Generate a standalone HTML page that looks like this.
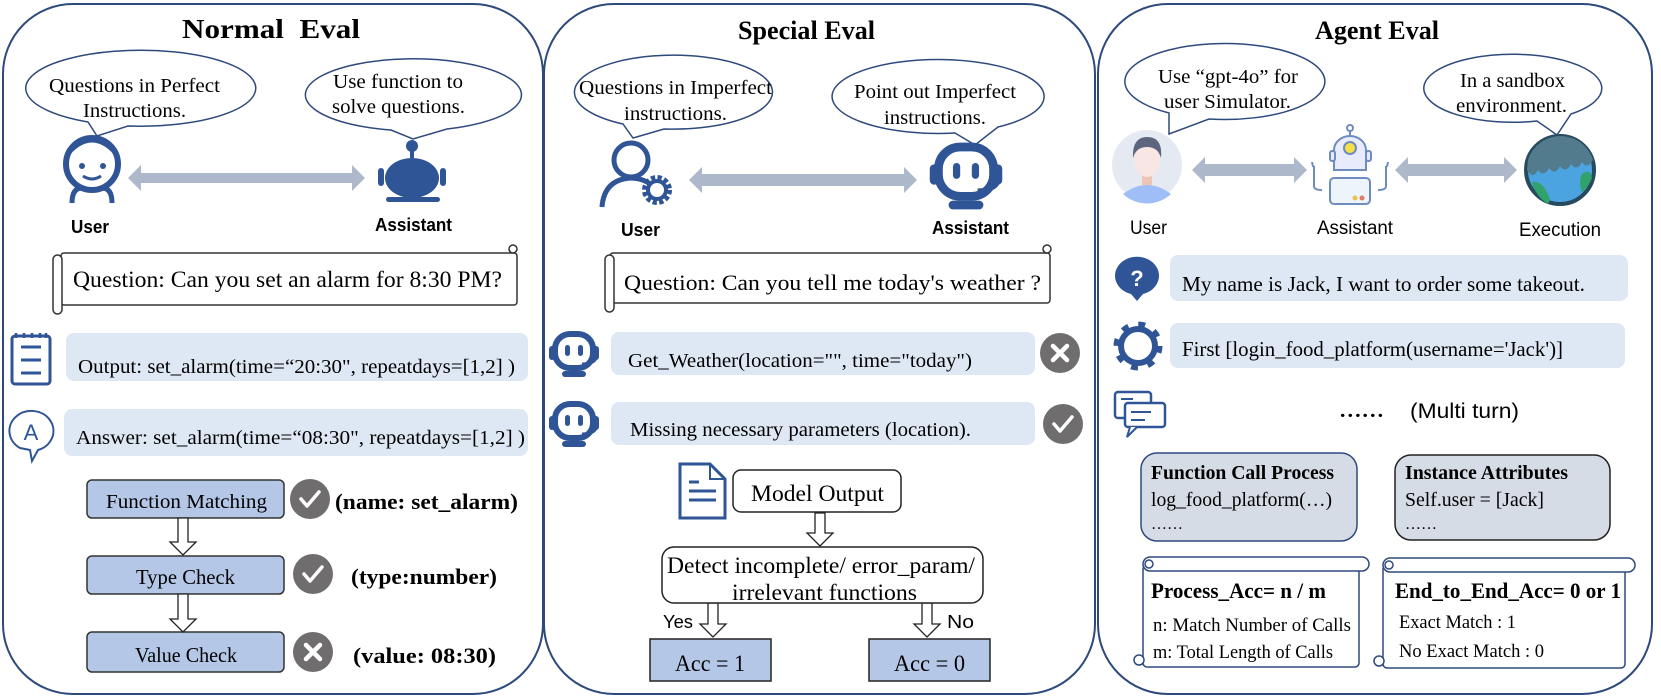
<!DOCTYPE html>
<html><head><meta charset="utf-8"><style>
html,body{margin:0;padding:0;background:#fff;}
svg{display:block;}
.s{font-family:"Liberation Serif",serif;}
.a{font-family:"Liberation Sans",sans-serif;}
</style></head><body>
<svg width="1661" height="700" viewBox="0 0 1661 700" xmlns="http://www.w3.org/2000/svg">
<defs>
<g id="chk"><circle r="20" fill="#6f6d6d"/><path d="M-9,0 L-3,7 L9,-7" stroke="#fff" stroke-width="3.5" fill="none" stroke-linecap="round" stroke-linejoin="round"/></g>
<g id="crs"><circle r="20" fill="#6f6d6d"/><path d="M-7,-7 L7,7 M7,-7 L-7,7" stroke="#fff" stroke-width="4.5" stroke-linecap="round"/></g>
<g id="bot"><rect x="-19" y="-20" width="38" height="34" rx="15" fill="none" stroke="#2f5597" stroke-width="6"/><rect x="-25" y="-8" width="6" height="14" rx="3" fill="#2f5597"/><rect x="19" y="-8" width="6" height="14" rx="3" fill="#2f5597"/><rect x="-9" y="-9" width="5" height="11" rx="2.5" fill="#2f5597"/><rect x="4" y="-9" width="5" height="11" rx="2.5" fill="#2f5597"/><path d="M22,4 Q20,10 8,10" stroke="#2f5597" stroke-width="3" fill="none"/><rect x="-12" y="17" width="24" height="6" rx="3" fill="#2f5597"/></g>
</defs>

<!-- panels -->
<g fill="none" stroke="#2e4a7d" stroke-width="2">
<rect x="3" y="4" width="540" height="690" rx="70"/>
<rect x="544" y="4" width="551" height="690" rx="70"/>
<rect x="1098" y="4" width="554" height="690" rx="70"/>
</g>

<!-- ===== LEFT ===== -->
<text x="182" y="38" class="s" font-size="27" font-weight="bold" textLength="178" lengthAdjust="spacingAndGlyphs">Normal&#160;&#160;Eval</text>
<g fill="#fff" stroke="#2e4a7d" stroke-width="1.5">
<path d="M128,126 A115,38 0 1 0 88,122 L97,136 Z"/>
<path d="M447,129 A108,36 0 1 0 391,130 L413,139 Z"/>
</g>
<text x="49" y="92" class="s" font-size="20" textLength="171" lengthAdjust="spacingAndGlyphs">Questions in Perfect</text>
<text x="83" y="117" class="s" font-size="20" textLength="103" lengthAdjust="spacingAndGlyphs">Instructions.</text>
<text x="333" y="88" class="s" font-size="20" textLength="130" lengthAdjust="spacingAndGlyphs">Use function to</text>
<text x="332" y="113" class="s" font-size="20" textLength="133" lengthAdjust="spacingAndGlyphs">solve questions.</text>
<!-- user icon -->
<circle cx="92" cy="164" r="26" fill="none" stroke="#2f5597" stroke-width="6"/>
<path d="M67,158 Q92,127 117,158 L117,150 Q92,124 67,150Z" fill="#2f5597"/>
<circle cx="82" cy="166" r="3" fill="#2f5597"/><circle cx="103" cy="166" r="3" fill="#2f5597"/>
<path d="M83,176 Q92,182 101,176" stroke="#2f5597" stroke-width="3" fill="none"/>
<path d="M72,203 Q72,188 82,188 M102,188 Q112,188 112,203" stroke="#2f5597" stroke-width="5" fill="none"/>
<text x="71" y="233" class="a" font-size="18" font-weight="bold" textLength="38" lengthAdjust="spacingAndGlyphs">User</text>
<polygon points="128,178 141,165 141,173 352,173 352,165 365,178 352,191 352,183 141,183 141,191" fill="#adb9ca"/>
<!-- assistant -->
<circle cx="412" cy="146" r="6" fill="#2f5597"/><rect x="410" y="148" width="4" height="10" fill="#2f5597"/>
<ellipse cx="412" cy="178" rx="27" ry="20" fill="#2f5597"/>
<rect x="378" y="168" width="6" height="18" rx="3" fill="#2f5597"/><rect x="440" y="168" width="6" height="18" rx="3" fill="#2f5597"/>
<rect x="386" y="197" width="54" height="5" rx="2.5" fill="#2f5597"/>
<text x="375" y="231" class="a" font-size="18" font-weight="bold" textLength="77" lengthAdjust="spacingAndGlyphs">Assistant</text>
<!-- scroll -->
<g fill="#fff" stroke="#333" stroke-width="1.5">
<rect x="61" y="253" width="456" height="52" rx="3"/>
<rect x="53" y="255" width="9" height="59" rx="4.5"/>
<circle cx="513" cy="249" r="4"/>
</g>
<text x="73" y="287" class="s" font-size="23" textLength="429" lengthAdjust="spacingAndGlyphs">Question: Can you set an alarm for 8:30 PM?</text>
<!-- notepad -->
<rect x="12" y="336" width="38" height="48" rx="3" fill="none" stroke="#2f5597" stroke-width="3"/>
<path d="M16,333 v5 M24,333 v5 M32,333 v5 M40,333 v5 M46,333 v5" stroke="#2f5597" stroke-width="2.5"/>
<path d="M21,347 h20 M21,360 h20 M21,373 h20" stroke="#2f5597" stroke-width="3"/>
<rect x="66" y="333" width="462" height="48" rx="8" fill="#dee8f4"/>
<text x="78" y="373" class="s" font-size="20" textLength="437" lengthAdjust="spacingAndGlyphs">Output: set_alarm(time=“20:30", repeatdays=[1,2] )</text>
<!-- A icon -->
<path d="M20,448 A22,20 0 1 1 38,450 L32,461 L30,450 Z" fill="none" stroke="#2f5597" stroke-width="2"/>
<text x="31" y="440" text-anchor="middle" class="a" font-size="22" fill="#2f5597">A</text>
<rect x="64" y="409" width="464" height="47" rx="8" fill="#dee8f4"/>
<text x="76" y="444" class="s" font-size="20" textLength="449" lengthAdjust="spacingAndGlyphs">Answer: set_alarm(time=“08:30", repeatdays=[1,2] )</text>
<!-- flow -->
<g fill="#b4c7e7" stroke="#333" stroke-width="1.5">
<rect x="87" y="480" width="197" height="38" rx="5"/>
<rect x="87" y="556" width="197" height="38" rx="5"/>
<rect x="87" y="632" width="197" height="40" rx="5"/>
</g>
<g fill="#fff" stroke="#222" stroke-width="1.3">
<polygon points="178,518 188,518 188,542 196,542 183,555 170,542 178,542"/>
<polygon points="178,594 188,594 188,619 196,619 183,632 170,619 178,619"/>
</g>
<text x="106" y="508" class="s" font-size="20" textLength="161" lengthAdjust="spacingAndGlyphs">Function Matching</text>
<text x="136" y="584" class="s" font-size="21" textLength="99" lengthAdjust="spacingAndGlyphs">Type Check</text>
<text x="135" y="662" class="s" font-size="21" textLength="102" lengthAdjust="spacingAndGlyphs">Value Check</text>
<use href="#chk" x="310" y="499"/><use href="#chk" x="313" y="574"/><use href="#crs" x="313" y="652"/>
<text x="335" y="509" class="s" font-size="22" font-weight="bold" textLength="183" lengthAdjust="spacingAndGlyphs">(name: set_alarm)</text>
<text x="351" y="584" class="s" font-size="22" font-weight="bold" textLength="146" lengthAdjust="spacingAndGlyphs">(type:number)</text>
<text x="353" y="663" class="s" font-size="22" font-weight="bold" textLength="143" lengthAdjust="spacingAndGlyphs">(value: 08:30)</text>

<!-- ===== MIDDLE ===== -->
<text x="738" y="39" class="s" font-size="26" font-weight="bold" textLength="137" lengthAdjust="spacingAndGlyphs">Special Eval</text>
<g fill="#fff" stroke="#2e4a7d" stroke-width="1.5">
<path d="M664,129 A99,37 0 1 0 623,124 L633,138 Z"/>
<path d="M998,127 A106,37 0 1 0 955,133 L975,145 Z"/>
</g>
<text x="579" y="94" class="s" font-size="20" textLength="193" lengthAdjust="spacingAndGlyphs">Questions in Imperfect</text>
<text x="624" y="120" class="s" font-size="20" textLength="103" lengthAdjust="spacingAndGlyphs">instructions.</text>
<text x="854" y="98" class="s" font-size="20" textLength="162" lengthAdjust="spacingAndGlyphs">Point out Imperfect</text>
<text x="884" y="124" class="s" font-size="20" textLength="102" lengthAdjust="spacingAndGlyphs">instructions.</text>
<!-- user w/ gear -->
<circle cx="631" cy="160" r="17" fill="none" stroke="#2f5597" stroke-width="5"/>
<path d="M602,207 Q604,180 630,178 Q642,178 650,184" fill="none" stroke="#2f5597" stroke-width="5"/>
<circle cx="657" cy="190" r="12" fill="none" stroke="#2f5597" stroke-width="6" stroke-dasharray="4 2.3"/>
<circle cx="657" cy="190" r="9" fill="none" stroke="#2f5597" stroke-width="4"/>
<text x="621" y="236" class="a" font-size="18" font-weight="bold" textLength="39" lengthAdjust="spacingAndGlyphs">User</text>
<polygon points="689,180 702,167 702,174 904,174 904,167 917,180 904,193 904,186 702,186 702,193" fill="#adb9ca"/>
<use href="#bot" transform="translate(966,176) scale(1.45)"/>
<text x="932" y="234" class="a" font-size="18" font-weight="bold" textLength="77" lengthAdjust="spacingAndGlyphs">Assistant</text>
<g fill="#fff" stroke="#333" stroke-width="1.5">
<rect x="610" y="253" width="440" height="50" rx="3"/>
<rect x="605" y="255" width="9" height="57" rx="4.5"/>
<circle cx="1047" cy="249" r="4"/>
</g>
<text x="624" y="290" class="s" font-size="22" textLength="417" lengthAdjust="spacingAndGlyphs">Question: Can you tell me today's weather ?</text>
<use href="#bot" x="574" y="354"/><use href="#bot" x="574" y="424"/>
<rect x="611" y="332" width="424" height="43" rx="8" fill="#dee8f4"/>
<rect x="611" y="402" width="424" height="43" rx="8" fill="#dee8f4"/>
<text x="628" y="367" class="s" font-size="20" textLength="344" lengthAdjust="spacingAndGlyphs">Get_Weather(location="", time="today")</text>
<text x="630" y="436" class="s" font-size="20" textLength="341" lengthAdjust="spacingAndGlyphs">Missing necessary parameters (location).</text>
<use href="#crs" x="1060" y="353"/><use href="#chk" x="1063" y="424"/>
<!-- doc icon -->
<path d="M680,464 h30 l15,15 v39 h-45 Z" fill="none" stroke="#2f5597" stroke-width="3"/>
<path d="M710,464 v15 h15" fill="none" stroke="#2f5597" stroke-width="2"/>
<path d="M689,482 h10 M689,491 h27 M689,500 h27" stroke="#2f5597" stroke-width="3"/>
<rect x="733" y="470" width="168" height="42" rx="8" fill="#fff" stroke="#222" stroke-width="1.5"/>
<text x="751" y="501" class="s" font-size="23" textLength="133" lengthAdjust="spacingAndGlyphs">Model Output</text>
<g fill="#fff" stroke="#222" stroke-width="1.3">
<polygon points="815,513 825,513 825,533 833,533 820,546 807,533 815,533"/>
<polygon points="708,603 718,603 718,624 726,624 713,637 700,624 708,624"/>
<polygon points="922,603 932,603 932,624 940,624 927,637 914,624 922,624"/>
</g>
<rect x="662" y="547" width="321" height="56" rx="12" fill="#fff" stroke="#222" stroke-width="1.5"/>
<text x="667" y="573" class="s" font-size="23" textLength="308" lengthAdjust="spacingAndGlyphs">Detect incomplete/ error_param/</text>
<text x="732" y="600" class="s" font-size="23" textLength="185" lengthAdjust="spacingAndGlyphs">irrelevant functions</text>
<text x="663" y="628" class="a" font-size="18" textLength="30" lengthAdjust="spacingAndGlyphs">Yes</text>
<text x="947" y="628" class="a" font-size="18" textLength="27" lengthAdjust="spacingAndGlyphs">No</text>
<rect x="650" y="639" width="121" height="42" fill="#b4c7e7" stroke="#222" stroke-width="1.5"/>
<rect x="869" y="639" width="121" height="42" fill="#b4c7e7" stroke="#222" stroke-width="1.5"/>
<text x="675" y="671" class="s" font-size="23" textLength="70" lengthAdjust="spacingAndGlyphs">Acc = 1</text>
<text x="894" y="671" class="s" font-size="23" textLength="71" lengthAdjust="spacingAndGlyphs">Acc = 0</text>

<!-- ===== RIGHT ===== -->
<text x="1315" y="39" class="s" font-size="26" font-weight="bold" textLength="124" lengthAdjust="spacingAndGlyphs">Agent Eval</text>
<g fill="#fff" stroke="#2e4a7d" stroke-width="1.5">
<path d="M1209,119 A100,38 0 1 0 1169,113 L1169,134 Z"/>
<path d="M1571,114 A89,34 0 1 0 1537,121 L1557,135 Z"/>
</g>
<text x="1158" y="83" class="s" font-size="20" textLength="140" lengthAdjust="spacingAndGlyphs">Use “gpt-4o” for</text>
<text x="1164" y="108" class="s" font-size="20" textLength="127" lengthAdjust="spacingAndGlyphs">user Simulator.</text>
<text x="1460" y="87" class="s" font-size="20" textLength="105" lengthAdjust="spacingAndGlyphs">In a sandbox</text>
<text x="1456" y="112" class="s" font-size="20" textLength="111" lengthAdjust="spacingAndGlyphs">environment.</text>
<!-- avatar -->
<circle cx="1147" cy="165" r="35" fill="#e5e9f2"/>
<path d="M1123,194 Q1147,176 1171,194 A35,35 0 0 1 1123,194Z" fill="#9fbdf7"/>
<rect x="1142" y="175" width="10" height="10" fill="#efc3b6"/>
<ellipse cx="1147" cy="160" rx="13" ry="17" fill="#f8e6e2"/>
<path d="M1133,158 Q1132,137 1147,137 Q1163,137 1161,158 Q1158,147 1147,147 Q1136,147 1133,158Z" fill="#5b657d"/>
<polygon points="1192,170 1205,157 1205,164 1294,164 1294,157 1307,170 1294,183 1294,176 1205,176 1205,183" fill="#adb9ca"/>
<polygon points="1395,170 1408,157 1408,164 1504,164 1504,157 1517,170 1504,183 1504,176 1408,176 1408,183" fill="#adb9ca"/>
<!-- robot -->
<g stroke="#6f8cc2" stroke-width="2" fill="#e7ebfb">
<circle cx="1350" cy="128" r="3" fill="none"/>
<line x1="1350" y1="131" x2="1350" y2="137"/>
<path d="M1334,170 v-20 a16,14 0 0 1 32,0 v20 Z"/>
<rect x="1330" y="151" width="5" height="10" rx="2"/><rect x="1366" y="151" width="5" height="10" rx="2"/>
<rect x="1330" y="178" width="40" height="26" rx="4" fill="#eef4fc"/>
<path d="M1312,162 q1,6 2,4 v20 q0,4 8,4 M1388,162 q-1,6 -2,4 v20 q0,4 -8,4" fill="none"/>
</g>
<circle cx="1350" cy="148" r="6" fill="#f4e14a" stroke="#6f8cc2" stroke-width="2"/>
<circle cx="1355" cy="198" r="2.5" fill="#e9c34a"/><circle cx="1362" cy="198" r="2.5" fill="#e07a6a"/>
<!-- earth -->
<circle cx="1560" cy="170" r="34" fill="#4ba3e0" stroke="#284a5e" stroke-width="4"/>
<path d="M1528,160 A34,34 0 0 1 1593,160 q-6,10 -11,2 q-5,10 -11,2 q-5,10 -11,2 q-5,10 -11,2 q-5,10 -11,2 q-5,10 -11,0Z" fill="#527c8e"/>
<path d="M1532,182 q12,-2 18,18 l-2,4 a34,34 0 0 1 -16,-22Z" fill="#2fa36b"/>
<path d="M1582,174 q8,-6 10,4 a34,34 0 0 1 -10,14 q-4,-10 0,-18Z" fill="#2fa36b"/>
<text x="1130" y="234" class="a" font-size="19" textLength="37" lengthAdjust="spacingAndGlyphs">User</text>
<text x="1317" y="234" class="a" font-size="19" textLength="76" lengthAdjust="spacingAndGlyphs">Assistant</text>
<text x="1519" y="236" class="a" font-size="19" textLength="82" lengthAdjust="spacingAndGlyphs">Execution</text>
<!-- rows -->
<path d="M1137,301 l-6,-7 a22,19 0 1 1 12,0 Z" fill="#2f5597"/>
<text x="1137" y="286" text-anchor="middle" class="a" font-size="22" font-weight="bold" fill="#fff">?</text>
<rect x="1170" y="255" width="458" height="46" rx="8" fill="#dee8f4"/>
<text x="1182" y="291" class="s" font-size="21" textLength="403" lengthAdjust="spacingAndGlyphs">My name is Jack,  I want to order some takeout.</text>
<circle cx="1138" cy="346" r="17" fill="none" stroke="#2f5597" stroke-width="6"/>
<circle cx="1138" cy="346" r="22" fill="none" stroke="#2f5597" stroke-width="5" stroke-dasharray="7 10.3"/>
<rect x="1170" y="323" width="455" height="45" rx="8" fill="#dee8f4"/>
<text x="1182" y="356" class="s" font-size="21" textLength="381" lengthAdjust="spacingAndGlyphs">First [login_food_platform(username='Jack')]</text>
<g fill="#fff" stroke="#2f5597" stroke-width="2.5">
<rect x="1115" y="392" width="36" height="26" rx="3"/>
<rect x="1125" y="403" width="40" height="24" rx="3"/>
</g>
<path d="M1121,399 h12 M1131,412 h20 M1131,420 h14" stroke="#2f5597" stroke-width="2"/>
<path d="M1130,427 l-3,10 l10,-10" fill="#fff" stroke="#2f5597" stroke-width="2"/>
<text x="1339" y="417" class="s" font-size="20" font-weight="bold" textLength="45" lengthAdjust="spacingAndGlyphs">……</text>
<text x="1410" y="418" class="a" font-size="21" textLength="109" lengthAdjust="spacingAndGlyphs">(Multi turn)</text>
<rect x="1141" y="453" width="216" height="88" rx="16" fill="#d6dce5" stroke="#2e4a7d" stroke-width="1.5"/>
<rect x="1395" y="455" width="215" height="85" rx="16" fill="#d6dce5" stroke="#222" stroke-width="1.5"/>
<text x="1151" y="479" class="s" font-size="20" font-weight="bold" textLength="183" lengthAdjust="spacingAndGlyphs">Function Call Process</text>
<text x="1151" y="506" class="s" font-size="20" textLength="181" lengthAdjust="spacingAndGlyphs">log_food_platform(…)</text>
<text x="1151" y="529" class="s" font-size="16">……</text>
<text x="1405" y="479" class="s" font-size="20" font-weight="bold" textLength="163" lengthAdjust="spacingAndGlyphs">Instance Attributes</text>
<text x="1405" y="506" class="s" font-size="20" textLength="139" lengthAdjust="spacingAndGlyphs">Self.user = [Jack]</text>
<text x="1405" y="529" class="s" font-size="16">……</text>
<!-- vertical scrolls -->
<g fill="#fff" stroke="#2e4a7d" stroke-width="1.5">
<rect x="1143" y="565" width="216" height="102" rx="4"/>
<rect x="1143" y="557" width="226" height="14" rx="7"/>
<circle cx="1149" cy="564" r="4"/>
<circle cx="1139" cy="660" r="5"/>
<rect x="1383" y="565" width="242" height="103" rx="4"/>
<rect x="1383" y="558" width="252" height="14" rx="7"/>
<circle cx="1389" cy="565" r="4"/>
<circle cx="1379" cy="661" r="5"/>
</g>
<text x="1151" y="598" class="s" font-size="22" font-weight="bold" textLength="175" lengthAdjust="spacingAndGlyphs">Process_Acc= n / m</text>
<text x="1153" y="631" class="s" font-size="19" textLength="198" lengthAdjust="spacingAndGlyphs">n:  Match Number of Calls</text>
<text x="1153" y="658" class="s" font-size="19" textLength="180" lengthAdjust="spacingAndGlyphs">m: Total Length of Calls</text>
<text x="1395" y="598" class="s" font-size="22" font-weight="bold" textLength="226" lengthAdjust="spacingAndGlyphs">End_to_End_Acc= 0 or 1</text>
<text x="1399" y="628" class="s" font-size="19" textLength="117" lengthAdjust="spacingAndGlyphs">Exact Match : 1</text>
<text x="1399" y="657" class="s" font-size="19" textLength="145" lengthAdjust="spacingAndGlyphs">No Exact Match : 0</text>
</svg>
</body></html>
